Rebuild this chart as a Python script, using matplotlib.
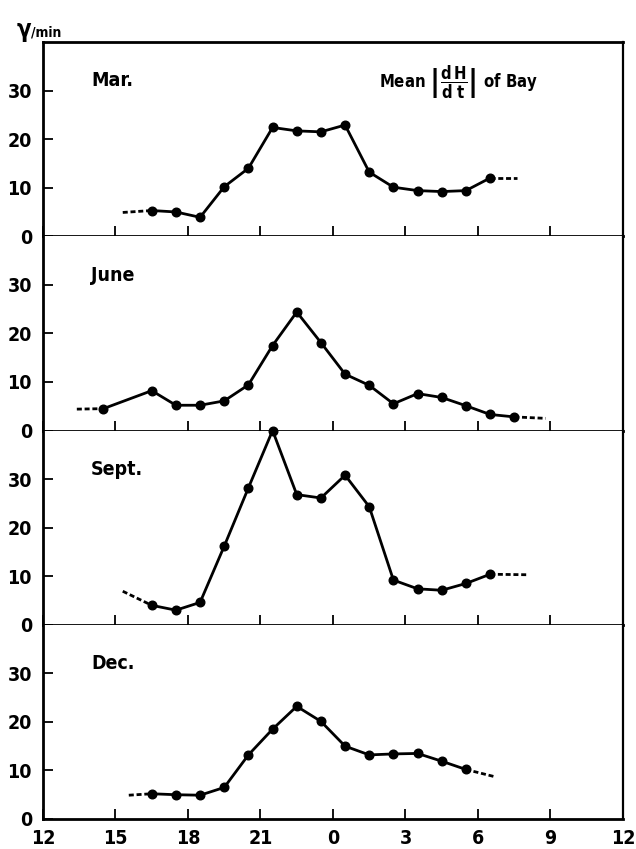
import matplotlib
matplotlib.use("Agg")
import matplotlib.pyplot as plt

plt.rcParams["font.family"] = ["DejaVu Sans"]
plt.rcParams["font.stretch"] = "condensed"
plt.rcParams["mathtext.fontset"] = "custom"
plt.rcParams["mathtext.rm"] = "DejaVu Sans:bold"
plt.rcParams["mathtext.it"] = "DejaVu Sans:bold"

# ---- data: hourly mean |dH/dt| (gamma/min), plotted at mid-hour (hours after noon, 24 = midnight)
panel_names = ["Mar.", "June", "Sept.", "Dec."]

mar_hours = [16.5, 17.5, 18.5, 19.5, 20.5, 21.5, 22.5, 23.5, 24.5, 25.5, 26.5, 27.5, 28.5, 29.5, 30.5]
mar_vals = [5.3, 5.0, 3.9, 10.2, 14.0, 22.4, 21.7, 21.5, 22.9, 13.2, 10.1, 9.4, 9.2, 9.4, 12.0]
mar_lead = (15.3, 4.9)
mar_tail = (31.6, 12.0)

june_hours = [14.5, 16.5, 17.5, 18.5, 19.5, 20.5, 21.5, 22.5, 23.5, 24.5, 25.5, 26.5, 27.5, 28.5, 29.5, 30.5, 31.5]
june_vals = [4.5, 8.2, 5.2, 5.2, 6.1, 9.4, 17.5, 24.4, 18.1, 11.6, 9.3, 5.5, 7.6, 6.8, 5.1, 3.3, 2.8]
june_lead = (13.4, 4.4)
june_tail = (32.8, 2.5)

sept_hours = [16.5, 17.5, 18.5, 19.5, 20.5, 21.5, 22.5, 23.5, 24.5, 25.5, 26.5, 27.5, 28.5, 29.5, 30.5]
sept_vals = [4.0, 3.0, 4.6, 16.2, 28.2, 40.0, 26.8, 26.1, 30.8, 24.3, 9.2, 7.4, 7.1, 8.5, 10.4]
sept_lead = (15.3, 6.9)
sept_tail = (32.0, 10.3)

dec_hours = [16.5, 17.5, 18.5, 19.5, 20.5, 21.5, 22.5, 23.5, 24.5, 25.5, 26.5, 27.5, 28.5, 29.5]
dec_vals = [5.2, 5.0, 4.9, 6.5, 13.2, 18.5, 23.2, 20.1, 15.0, 13.2, 13.4, 13.5, 11.9, 10.2]
dec_lead = (15.55, 4.9)
dec_tail = (30.7, 8.7)

x_ticks = [12, 15, 18, 21, 24, 27, 30, 33, 36]
x_labels = ["12", "15", "18", "21", "0", "3", "6", "9", "12"]
y_ticks = [0, 10, 20, 30]
y_labels = ["0", "10", "20", "30"]

series = [
    (mar_hours, mar_vals, mar_lead, mar_tail),
    (june_hours, june_vals, june_lead, june_tail),
    (sept_hours, sept_vals, sept_lead, sept_tail),
    (dec_hours, dec_vals, dec_lead, dec_tail),
]

# ---- layout
W, H = 636, 849
fig = plt.figure(figsize=(W / 100, H / 100), dpi=100)
left_px, right_px = 43, 623
top_px, bottom_px = 42, 819
panel_h = (bottom_px - top_px) / 4

axes = []
for i in range(4):
    y_top = top_px + i * panel_h
    ax = fig.add_axes([left_px / W, 1 - (y_top + panel_h) / H,
                       (right_px - left_px) / W, panel_h / H])
    axes.append(ax)

for i, (ax, name, (hx, hv, lead, tail)) in enumerate(zip(axes, panel_names, series)):
    ax.set_xlim(12, 36)
    ax.set_ylim(0, 40)
    # dashed extensions at both ends
    ax.plot([lead[0], hx[0]], [lead[1], hv[0]], color="black", lw=2.0,
            ls=(0, (1.8, 1.0)), solid_capstyle="butt", zorder=2, clip_on=False)
    ax.plot([hx[-1], tail[0]], [hv[-1], tail[1]], color="black", lw=2.0,
            ls=(0, (1.8, 1.0)), solid_capstyle="butt", zorder=2, clip_on=False)
    ax.plot(hx, hv, color="black", lw=2.0, marker="o", ms=6.2,
            mfc="black", mec="black", zorder=3, clip_on=False)

    ax.set_xticks(x_ticks)
    ax.set_yticks(y_ticks)
    ax.set_yticklabels(y_labels, fontsize=14, fontweight="bold")
    ax.tick_params(axis="both", direction="in", length=7, width=1.3, color="black")
    ax.tick_params(axis="y", pad=8)
    if i < 3:
        ax.tick_params(axis="x", labelbottom=False)
    else:
        ax.set_xticklabels(x_labels, fontsize=14, fontweight="bold")
        ax.tick_params(axis="x", pad=7)
    for side in ("left", "bottom", "top"):
        ax.spines[side].set_linewidth(2.0)
    ax.spines["right"].set_linewidth(1.6)
    if i > 0:
        ax.spines["top"].set_visible(False)

    ax.text(0.083, 0.80, name, transform=ax.transAxes, fontsize=14,
            fontweight="bold", ha="left", va="center")

axes[0].text(0.716, 0.79, r"Mean $\left|\dfrac{\mathrm{d\,H}}{\mathrm{d\,\,t}}\right|$ of Bay",
             transform=axes[0].transAxes, fontsize=12, fontweight="bold",
             ha="center", va="center")

# unit label
fig.text(17 / W, 1 - 30 / H, "γ", fontsize=17, fontweight="bold", ha="left", va="center")
fig.text(31 / W, 1 - 33 / H, "/min", fontsize=10, fontweight="bold", ha="left", va="center")

fig.savefig("out.png", dpi=100)
